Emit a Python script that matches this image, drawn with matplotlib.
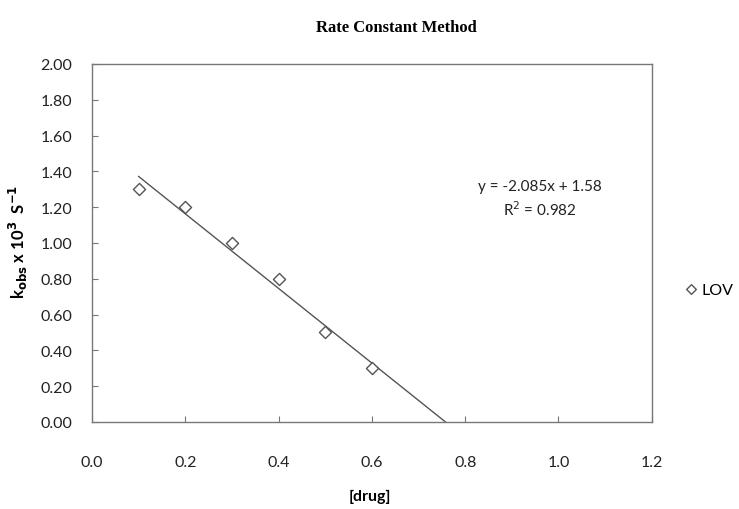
import numpy as np
import matplotlib.pyplot as plt

# data
drug = [0.1, 0.2, 0.3, 0.4, 0.5, 0.6]
kobs = [1.30, 1.20, 1.00, 0.80, 0.50, 0.30]
slope = -2.085
intercept = 1.58
x_ticks = [0.0, 0.2, 0.4, 0.6, 0.8, 1.0, 1.2]
y_ticks = [0.0, 0.2, 0.4, 0.6, 0.8, 1.0, 1.2, 1.4, 1.6, 1.8, 2.0]

plt.rcParams['font.family'] = ['Lato', 'DejaVu Sans']

fig = plt.figure(figsize=(7.39, 5.10), dpi=100)
ax = fig.add_axes([0.1245, 0.1706, 0.7575, 0.702])

# trend line from first point to where it hits zero
x_end = -intercept / slope
xl = np.array([drug[0], x_end])
ax.plot(xl, slope * xl + intercept, color='#555555', lw=1.0, zorder=2)

ax.scatter(drug, kobs, marker='D', s=38, facecolor='white',
           edgecolor='#555555', linewidth=1.0, zorder=3, label='LOV')

ax.set_xlim(0, 1.2)
ax.set_ylim(0, 2.0)
ax.set_xticks(x_ticks)
ax.set_yticks(y_ticks)
ax.set_xticklabels(['%.1f' % v for v in x_ticks])
ax.set_yticklabels(['%.2f' % v for v in y_ticks])
ax.tick_params(direction='in', length=4, width=0.8, colors='#777777',
               labelcolor='#222222', labelsize=11.5)
ax.tick_params(axis='x', pad=24)
ax.tick_params(axis='y', pad=14)
for s in ax.spines.values():
    s.set_color('#777777')
    s.set_linewidth(1.0)

ax.text(0.96, 1.32, 'y = -2.085x + 1.58', fontsize=11, ha='center',
        va='center', color='#222222')
ax.text(0.96, 1.19, 'R$^2$ = 0.982', fontsize=11, ha='center',
        va='center', color='#222222')

fig.text(0.537, 0.945, 'Rate Constant Method', fontsize=12, fontweight='bold',
         family='Liberation Serif', ha='center', va='center')
fig.text(0.50, 0.025, '[drug]', fontsize=11.5, fontweight='bold',
         ha='center', va='center')
fig.text(0.025, 0.525, r'k$_{\mathbf{obs}}$ x 10$^{\mathbf{3}}$  S$^{\mathbf{-1}}$',
         fontsize=12, fontweight='bold', rotation=90, ha='center', va='center')

ax.legend(loc='center left', bbox_to_anchor=(1.055, 0.37), frameon=False,
          fontsize=11.5, handletextpad=0.2, handlelength=1.0, borderpad=0,
          borderaxespad=0, markerscale=0.8)

fig.savefig('out.png', dpi=100)
